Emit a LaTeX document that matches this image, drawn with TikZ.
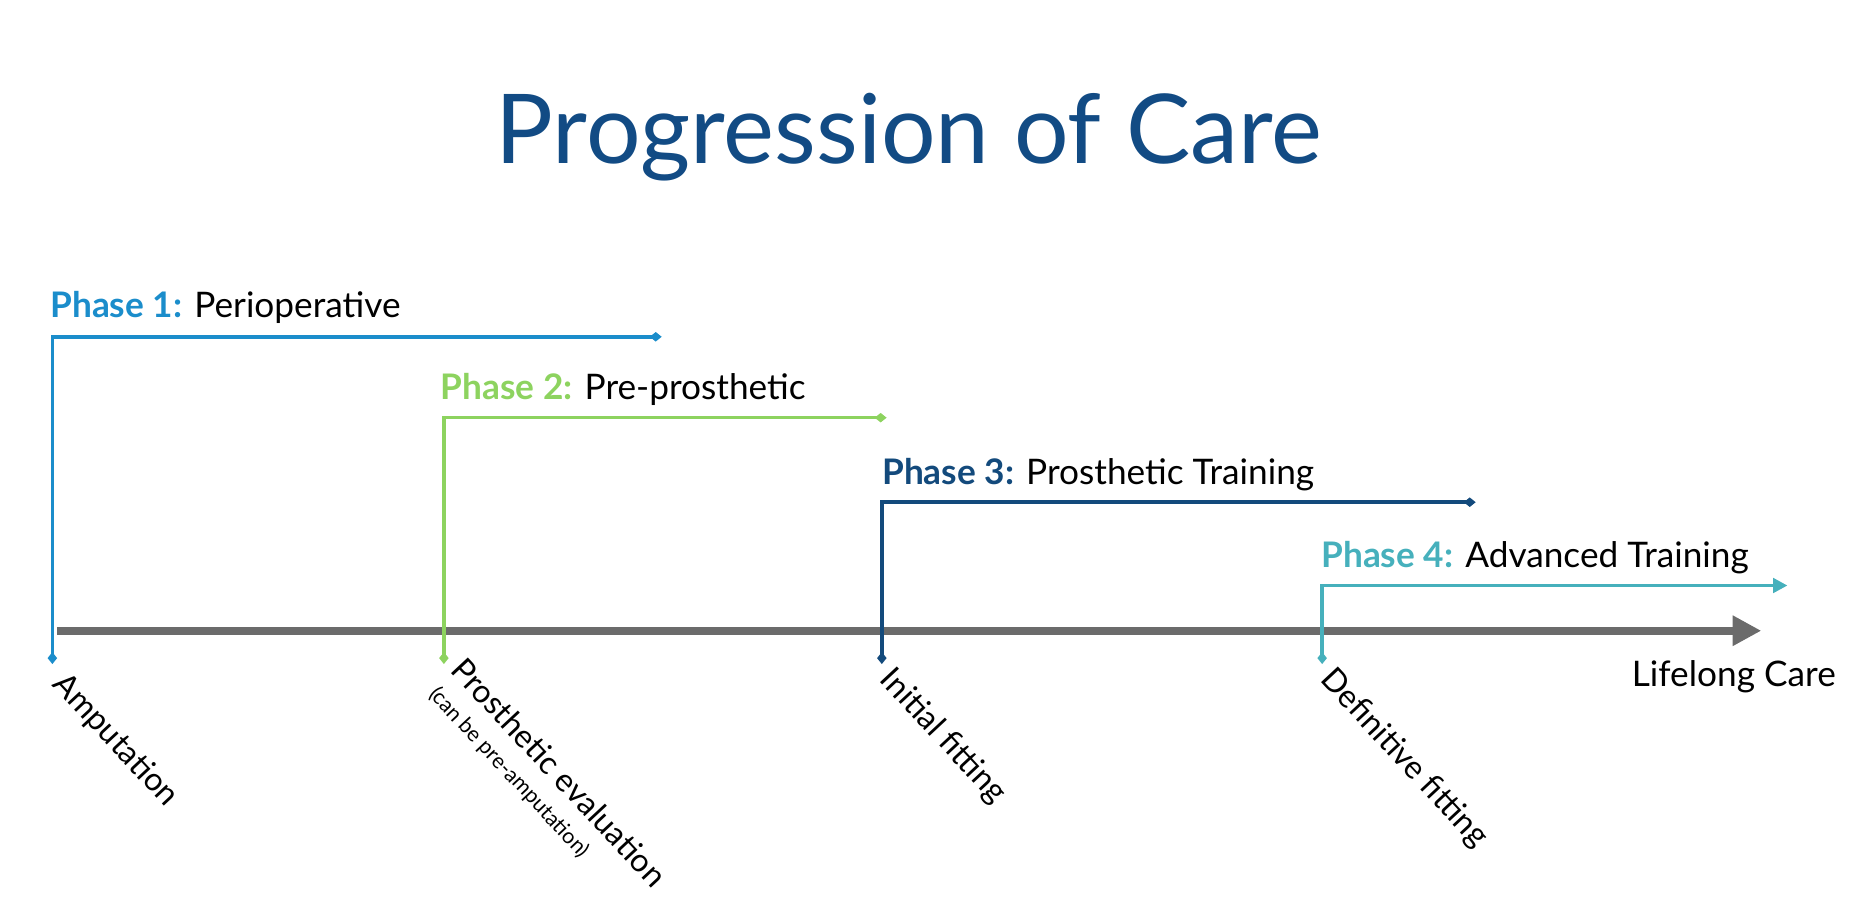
\documentclass[tikz,border=0pt]{standalone}
\usepackage{fontspec}
\setmainfont{Lato}
\usetikzlibrary{arrows.meta}
\definecolor{pone}{HTML}{1B8DCB}
\definecolor{ptwo}{HTML}{8DD35F}
\definecolor{pthree}{HTML}{134A7C}
\definecolor{pfour}{HTML}{46B0BC}
\definecolor{ttl}{HTML}{124B84}
\definecolor{axisc}{HTML}{6B6B6B}
\begin{document}
\begin{tikzpicture}[x=0.5pt,y=-0.5pt,
  phl/.style={anchor=base west,inner sep=0pt,font=\fontsize{14.8}{16}\selectfont},
  bar/.style={line width=1.5pt,{Diamond[length=5pt,width=4pt]}-{Diamond[length=5pt,width=4pt]}},
  rot/.style={anchor=north west,rotate=-47,inner sep=0pt,font=\fontsize{13.5}{15}\selectfont,align=left}]
\useasboundingbox (0,0) rectangle (1568,775);
\node[font=\fontsize{40.5}{46}\selectfont,text=ttl] (title) at (764,115) {Progression of Care};
% axis
\coordinate (a0) at (48,530);
\coordinate (a1) at (1480,530);
\draw[axisc,line width=3.5pt,-{Triangle[length=12pt,width=12pt]}] (a0) -- (a1);
\node[anchor=base east,inner sep=0pt,font=\fontsize{14.8}{16}\selectfont] (life) at (1543,577) {Lifelong Care};
% phase 1
\coordinate (b1) at (44,558); \coordinate (c1) at (44,283); \coordinate (e1) at (556,283);
\draw[pone,bar] (b1) -- (c1) -- (e1);
\node[phl] (l1) at (42,267) {\textbf{\color{pone}Phase 1:} Perioperative};
% phase 2
\coordinate (b2) at (373,558); \coordinate (c2) at (373,351); \coordinate (e2) at (745,351);
\draw[ptwo,bar] (b2) -- (c2) -- (e2);
\node[phl] (l2) at (370,336) {\textbf{\color{ptwo}Phase 2:} Pre-prosthetic};
% phase 3
\coordinate (b3) at (741,558); \coordinate (c3) at (741,422); \coordinate (e3) at (1240,422);
\draw[pthree,bar] (b3) -- (c3) -- (e3);
\node[phl] (l3) at (741,407) {\textbf{\color{pthree}Phase 3:} Prosthetic Training};
% phase 4
\coordinate (b4) at (1111,558); \coordinate (c4) at (1111,492); \coordinate (e4) at (1502,492);
\draw[pfour,line width=1.5pt,{Diamond[length=5pt,width=4pt]}-{Triangle[length=6pt,width=6pt]}] (b4) -- (c4) -- (e4);
\node[phl] (l4) at (1110,477) {\textbf{\color{pfour}Phase 4:} Advanced Training};
% rotated labels
\node[rot] (r1) at (58,562) {Amputation};
\node[rot] (r2) at (392,550) {Prosthetic evaluation};
\node[rot,font=\fontsize{9}{10}\selectfont] (r2b) at (370,574) {(can be pre-amputation)};
\node[rot] (r3) at (753,558) {Initial fitting};
\node[rot] (r4) at (1123,558) {Definitive fitting};
\end{tikzpicture}
\end{document}
